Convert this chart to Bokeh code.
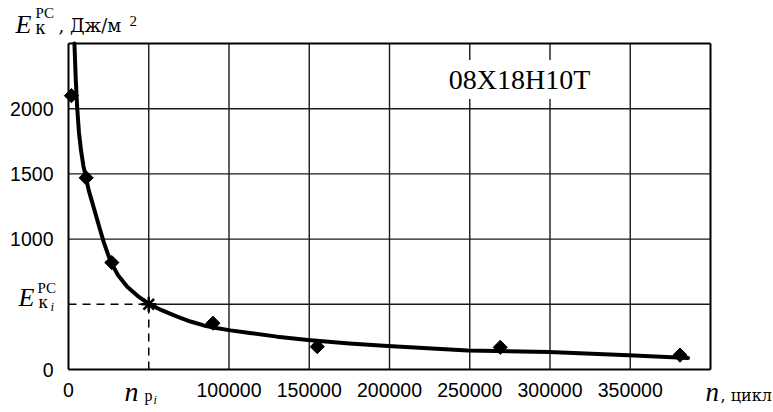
import math
from bokeh.plotting import figure
from bokeh.models import Range1d, FixedTicker, Label, LinearAxis
from bokeh.embed import file_html
from bokeh.resources import INLINE

# ---- data ----
curve_n = [3700, 4500, 5400, 6500, 7800, 9300, 11000, 12700, 16800, 19000,
           22000, 25000, 27200, 31000, 36600, 43000, 50000, 58000, 67700, 76000,
           84300, 92000, 100900, 113000, 130000, 149200, 175000, 199000, 248700,
           299400, 349000, 386000]
curve_E = [2500, 2230, 2010, 1820, 1680, 1560, 1465, 1370, 1195, 1100,
           975, 870, 805, 720, 635, 565, 504, 455, 405, 368,
           338, 318, 300, 280, 252, 226, 200, 180, 145,
           135, 109, 89]
pts_n = [1800, 11000, 27000, 90000, 155000, 269000, 381000]
pts_E = [2100, 1470, 820, 355, 175, 170, 110]
n_pi = 50000
E_ki = 500
x_ticks = [0, 50000, 100000, 150000, 200000, 250000, 300000, 350000]
y_ticks = [0, 500, 1000, 1500, 2000]
x_grid = [100000, 150000, 200000, 250000, 300000, 350000]
y_grid = [1000, 1500, 2000]
x_max, y_max = 400000, 2500

# ---- layout: canvas px of the plotting area ----
W, H = 773, 412
FL, FR, FT, FB = 68, 710, 43, 369
SERIF = "Liberation Serif"
SERIF_W = "DejaVu Serif"
SANS = "Liberation Sans"
kx = x_max / (FR - FL)
ky = y_max / (FB - FT)

p = figure(width=W, height=H, min_border=0,
           x_range=Range1d(-FL * kx, x_max + (W - FR) * kx),
           y_range=Range1d(-(H - FB) * ky, y_max + FT * ky),
           x_axis_location=None, y_axis_location=None,
           output_backend="svg", toolbar_location=None,
           background_fill_color="white", border_fill_color="white")
p.outline_line_color = None
p.xgrid.visible = False
p.ygrid.visible = False

xax = LinearAxis(fixed_location=0, bounds=(0, x_max),
                 ticker=FixedTicker(ticks=x_ticks))
yax = LinearAxis(fixed_location=0, bounds=(0, y_max),
                 ticker=FixedTicker(ticks=y_ticks))
for ax, ticks, skip, stand in ((xax, x_ticks, n_pi, 13), (yax, y_ticks, E_ki, 15)):
    ax.axis_line_color = "black"
    ax.axis_line_width = 2
    ax.major_tick_out = 0
    ax.major_tick_in = 0
    ax.minor_tick_out = 0
    ax.minor_tick_in = 0
    ax.major_label_text_font = SANS
    ax.major_label_text_font_size = "19.5px"
    ax.major_label_text_color = "black"
    ax.major_label_standoff = stand
    ax.major_label_overrides = {t: ("" if t == skip else str(t)) for t in ticks}
p.add_layout(xax, "below")
p.add_layout(yax, "left")

# grid lines inside the plotting area
GRID = "#1a1a1a"
p.segment(x0=x_grid, y0=[0] * len(x_grid), x1=x_grid, y1=[y_max] * len(x_grid),
          line_color=GRID, line_width=1.4)
p.segment(x0=[0] * len(y_grid), y0=y_grid, x1=[x_max] * len(y_grid), y1=y_grid,
          line_color=GRID, line_width=1.4)
# frame top and right
p.segment(x0=[0, x_max], y0=[y_max, 0], x1=[x_max, x_max], y1=[y_max, y_max],
          line_color="black", line_width=2)
# partial grid lines through the marked point (solid beyond, dashed before)
p.segment(x0=[n_pi, n_pi], y0=[E_ki, E_ki], x1=[x_max, n_pi], y1=[E_ki, y_max],
          line_color=GRID, line_width=1.4)
p.segment(x0=[0, n_pi], y0=[E_ki, 0], x1=[n_pi, n_pi], y1=[E_ki, E_ki],
          line_color="black", line_width=1.5, line_dash="8 6")

# fitted curve
p.line(curve_n, curve_E, line_color="black", line_width=4, line_join="round",
       line_cap="round")
# experimental points
p.scatter(pts_n, pts_E, marker="square", angle=math.pi / 4, size=10,
          fill_color="black", line_color="black")
p.scatter([n_pi], [E_ki], marker="asterisk", size=15, line_color="black",
          line_width=2.5)


def px2d(px, py):
    return ((px - FL) * kx, (FB - py) * ky)


def lab(px, py, text, size, italic=False, font=SERIF, align="left", **kw):
    # py is the wanted baseline; compensate the label's baseline placement
    x, y = px2d(px, py - 0.32 * size)
    p.add_layout(Label(x=x, y=y, text=text, text_font=font,
                       text_font_size=f"{size}px",
                       text_font_style="italic" if italic else "normal",
                       text_align=align, text_baseline="alphabetic",
                       text_color="black", **kw))


# y-axis title: E_к^РС , Дж/м²
lab(15, 32, "E", 26, italic=True)
lab(35, 17, "РС", 15)
lab(35, 33, "к", 20)
lab(58, 31, ", Дж/м", 18, font=SERIF_W)
lab(129, 25, "2", 15)

# E_кi^РС at y = E_ki
lab(18, 305, "E", 26, italic=True)
lab(37, 292, "РС", 15)
lab(38, 307, "к", 19)
lab(50, 310, "i", 13, italic=True)

# n_pi at x = n_pi
lab(124, 400, "n", 28, italic=True)
lab(144, 400, "p", 16)
lab(153, 403, "i", 12, italic=True)

# x-axis title
lab(705, 400, "n", 27, italic=True)
lab(720, 400, ", цикл", 16, font=SERIF_W)

# material label
lab(519, 88, "08X18H10T", 28, align="center",
    background_fill_color="white", padding=4)

open("out.html", "w").write(file_html(p, INLINE))
